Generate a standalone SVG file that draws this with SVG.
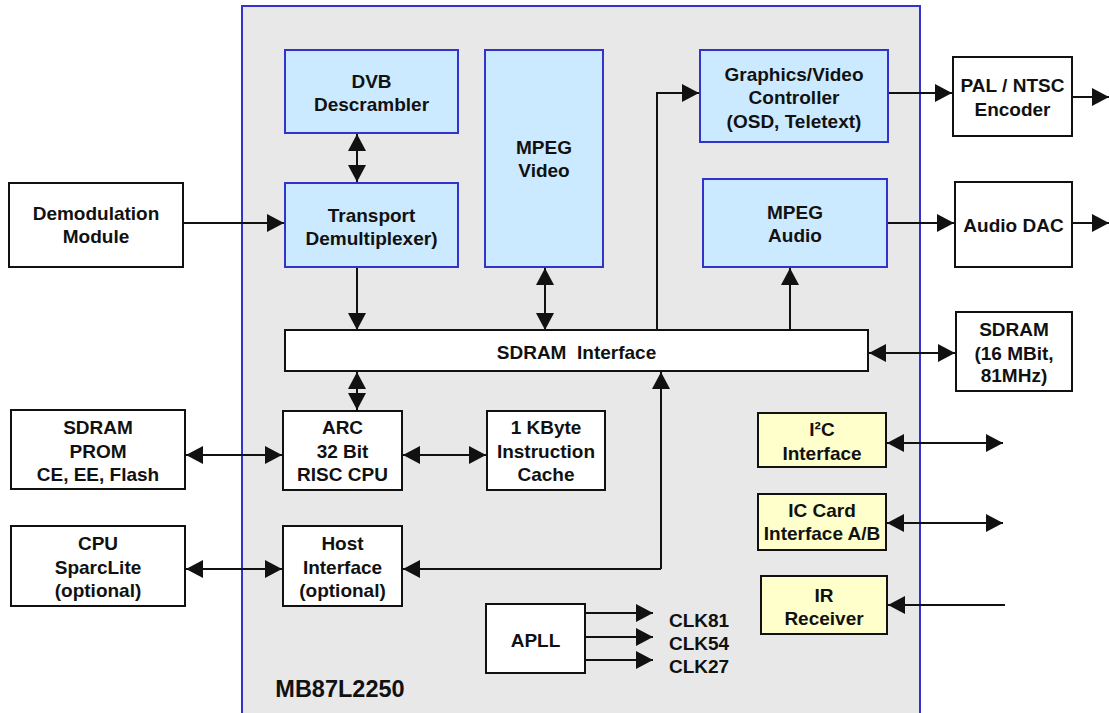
<svg xmlns="http://www.w3.org/2000/svg" width="1109" height="713" viewBox="0 0 1109 713">
<style>
text{font-family:"Liberation Sans",Arial,sans-serif;font-weight:bold;font-size:19px;fill:#111;text-anchor:middle;dominant-baseline:central}
.blue{fill:#cceaff;stroke:#3333cc;stroke-width:2}
.white{fill:#fff;stroke:#111;stroke-width:2}
.yellow{fill:#ffffcc;stroke:#111;stroke-width:2}
.c{fill:none;stroke:#111;stroke-width:2}
.a{marker-end:url(#ah)}
.b{marker-start:url(#ah);marker-end:url(#ah)}
</style>
<defs>
<marker id="ah" markerUnits="userSpaceOnUse" viewBox="0 0 17 18" refX="17" refY="9" markerWidth="17" markerHeight="18" orient="auto-start-reverse">
<path d="M0,0 L17,9 L0,18 z" fill="#111"/>
</marker>
</defs>
<rect x="0" y="0" width="1109" height="713" fill="#fff"/>
<g id="chip">
<rect x="242" y="6" width="678" height="720" fill="#e8e8e8" stroke="#3333cc" stroke-width="2"/>
<text x="340" y="689" style="font-size:23.5px">MB87L2250</text>
</g>
<g id="connectors">
<line class="c b" x1="357" y1="134" x2="357" y2="182"/>
<line class="c a" x1="183" y1="223" x2="284" y2="223"/>
<line class="c a" x1="357" y1="268" x2="357" y2="330"/>
<line class="c b" x1="545" y1="268" x2="545" y2="330"/>
<polyline class="c a" points="657,330 657,93 699,93"/>
<line class="c a" x1="888" y1="93" x2="952" y2="93"/>
<line class="c a" x1="1072" y1="97" x2="1109" y2="97"/>
<line class="c a" x1="790" y1="330" x2="790" y2="268"/>
<line class="c a" x1="887" y1="223" x2="954" y2="223"/>
<line class="c a" x1="1072" y1="223" x2="1109" y2="223"/>
<line class="c b" x1="869" y1="353" x2="955" y2="353"/>
<line class="c b" x1="357" y1="372" x2="357" y2="410"/>
<line class="c b" x1="186" y1="455" x2="282" y2="455"/>
<line class="c b" x1="403" y1="455" x2="486" y2="455"/>
<line class="c b" x1="186" y1="569" x2="282" y2="569"/>
<polyline class="c a" points="661,569 403,569"/>
<line class="c a" x1="661" y1="569" x2="661" y2="372"/>
<line class="c b" x1="887" y1="443" x2="1003" y2="443"/>
<line class="c b" x1="887" y1="523" x2="1003" y2="523"/>
<line class="c a" x1="1005" y1="605" x2="888" y2="605"/>
<line class="c a" x1="585" y1="613" x2="653" y2="613"/>
<line class="c a" x1="585" y1="637" x2="653" y2="637"/>
<line class="c a" x1="585" y1="660" x2="653" y2="660"/>
</g>
<g id="dvb">
<rect class="blue" x="285" y="50" width="173" height="83"/>
<text x="371.5" y="81">DVB</text>
<text x="371.5" y="104">Descrambler</text>
</g>
<g id="transport">
<rect class="blue" x="285" y="183" width="173" height="84"/>
<text x="371.5" y="215">Transport</text>
<text x="371.5" y="238">Demultiplexer)</text>
</g>
<g id="mpegvideo">
<rect class="blue" x="485" y="50" width="118" height="217"/>
<text x="544" y="147">MPEG</text>
<text x="544" y="170">Video</text>
</g>
<g id="graphics">
<rect class="blue" x="700" y="50" width="188" height="92"/>
<text x="794" y="74">Graphics/Video</text>
<text x="794" y="97">Controller</text>
<text x="794" y="121">(OSD, Teletext)</text>
</g>
<g id="mpegaudio">
<rect class="blue" x="703" y="179" width="184" height="88"/>
<text x="795" y="212">MPEG</text>
<text x="795" y="235">Audio</text>
</g>
<g id="sdramif">
<rect class="white" x="285" y="330" width="583" height="41"/>
<text x="576.5" y="352" xml:space="preserve">SDRAM  Interface</text>
</g>
<g id="demod">
<rect class="white" x="9" y="183" width="174" height="84"/>
<text x="96" y="213">Demodulation</text>
<text x="96" y="236">Module</text>
</g>
<g id="pal">
<rect class="white" x="953" y="57" width="119" height="79"/>
<text x="1012.5" y="85">PAL / NTSC</text>
<text x="1012.5" y="109">Encoder</text>
</g>
<g id="audiodac">
<rect class="white" x="955" y="182" width="117" height="85"/>
<text x="1013.5" y="225">Audio DAC</text>
</g>
<g id="sdram">
<rect class="white" x="956" y="312" width="116" height="79"/>
<text x="1014" y="329">SDRAM</text>
<text x="1014" y="353">(16 MBit,</text>
<text x="1014" y="375">81MHz)</text>
</g>
<g id="prom">
<rect class="white" x="11" y="410" width="174" height="79"/>
<text x="98" y="427">SDRAM</text>
<text x="98" y="451">PROM</text>
<text x="98" y="474">CE, EE, Flash</text>
</g>
<g id="arc">
<rect class="white" x="283" y="411" width="119" height="79"/>
<text x="342.5" y="427">ARC</text>
<text x="342.5" y="451">32 Bit</text>
<text x="342.5" y="474">RISC CPU</text>
</g>
<g id="cache">
<rect class="white" x="487" y="411" width="118" height="79"/>
<text x="546" y="427">1 KByte</text>
<text x="546" y="451">Instruction</text>
<text x="546" y="474">Cache</text>
</g>
<g id="cpu">
<rect class="white" x="11" y="526" width="174" height="80"/>
<text x="98" y="543">CPU</text>
<text x="98" y="567">SparcLite</text>
<text x="98" y="590">(optional)</text>
</g>
<g id="host">
<rect class="white" x="283" y="526" width="119" height="80"/>
<text x="342.5" y="543">Host</text>
<text x="342.5" y="567">Interface</text>
<text x="342.5" y="590">(optional)</text>
</g>
<g id="i2c">
<rect class="yellow" x="758" y="413" width="128" height="54"/>
<text x="822" y="429">I²C</text>
<text x="822" y="453">Interface</text>
</g>
<g id="iccard">
<rect class="yellow" x="758" y="494" width="128" height="56"/>
<text x="822" y="510">IC Card</text>
<text x="822" y="533">Interface A/B</text>
</g>
<g id="ir">
<rect class="yellow" x="761" y="576" width="126" height="58"/>
<text x="824" y="595">IR</text>
<text x="824" y="618">Receiver</text>
</g>
<g id="apll">
<rect class="white" x="486" y="604" width="99" height="69"/>
<text x="535.5" y="640">APLL</text>
<text x="669" y="620" style="text-anchor:start">CLK81</text>
<text x="669" y="643" style="text-anchor:start">CLK54</text>
<text x="669" y="666" style="text-anchor:start">CLK27</text>
</g>
</svg>
